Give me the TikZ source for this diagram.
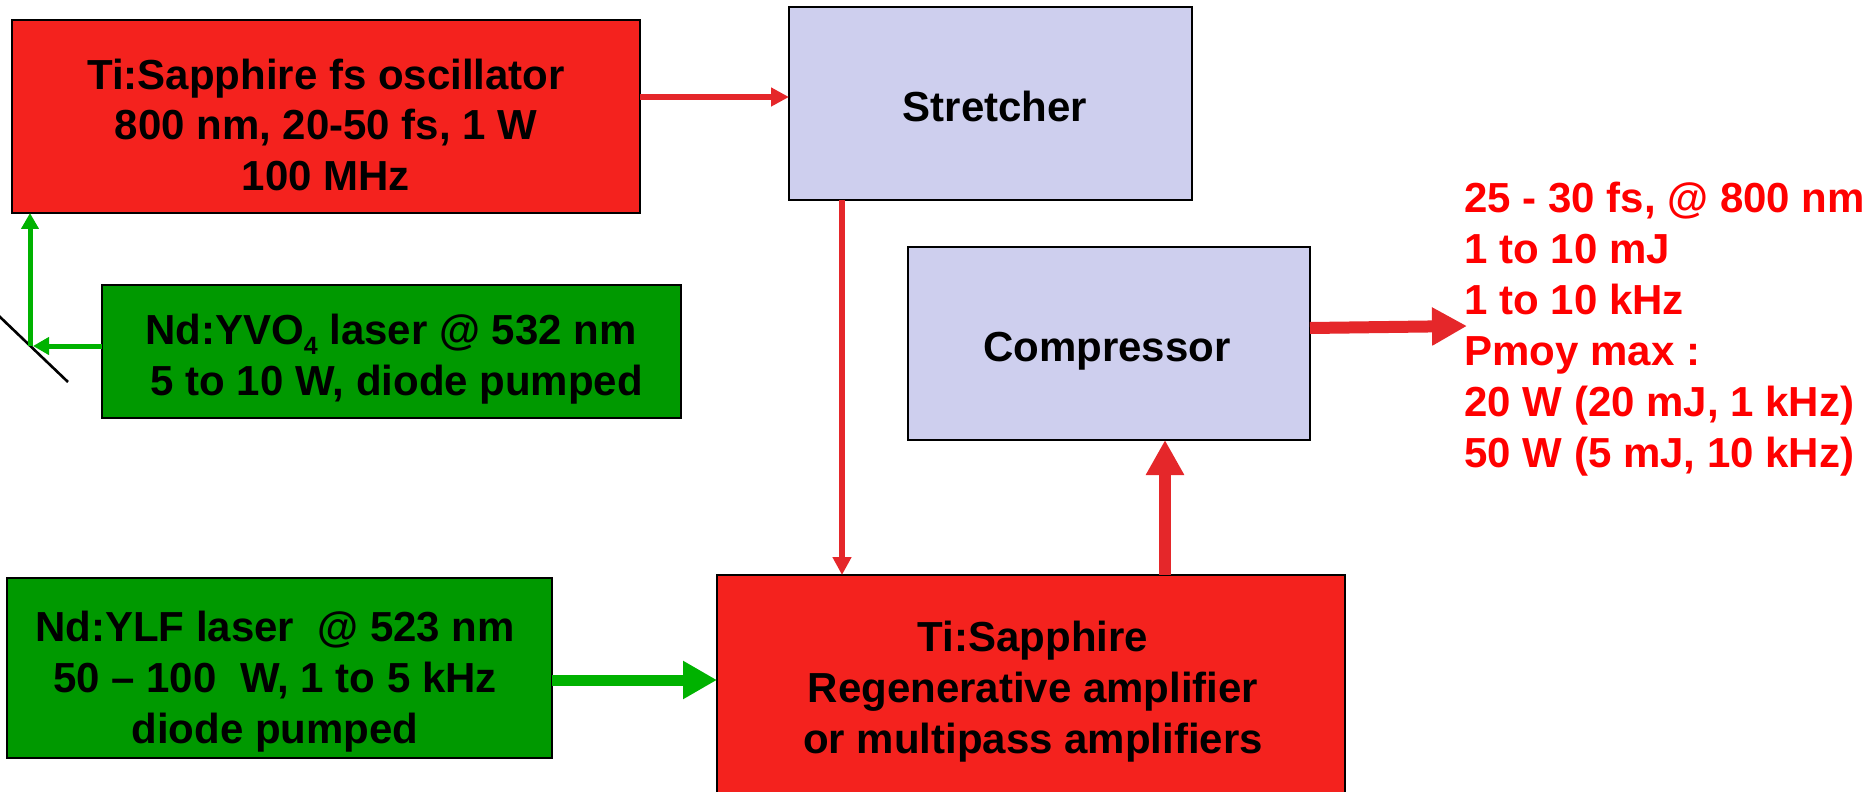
\documentclass[tikz,border=0pt]{standalone}
\usepackage{fontspec}
\setmainfont{Liberation Sans}
\usetikzlibrary{arrows.meta}
\definecolor{boxred}{RGB}{244,34,30}
\definecolor{lavender}{RGB}{206,207,238}
\definecolor{boxgreen}{RGB}{0,153,0}
\definecolor{arrowred}{RGB}{229,39,42}
\definecolor{arrowgreen}{RGB}{0,178,0}
\definecolor{textred}{RGB}{255,0,0}
\begin{document}
\begin{tikzpicture}[x=0.5pt,y=-0.5pt,
  box/.style={draw=black, line width=1.2pt, inner sep=0pt, outer sep=0pt},
  lbl/.style={font=\fontsize{21}{25.5}\selectfont\bfseries, align=center, inner sep=0pt},
  redthin/.style={draw=arrowred, line width=3pt, -{Triangle[length=9pt,width=9pt]}},
  redthick/.style={draw=arrowred, line width=6pt, -{Triangle[length=17.5pt,width=18pt]}},
  greenthin/.style={draw=arrowgreen, line width=2.5pt, -{Triangle[length=8pt,width=8.5pt]}},
  greenthick/.style={draw=arrowgreen, line width=5.5pt, -{Triangle[length=17pt,width=18pt]}},
]
\useasboundingbox (0,0) rectangle (1876,792);
\clip (0,0) rectangle (1876,792);

% boxes
\node[box, fill=boxred, minimum width=314pt, minimum height=96.5pt] (osc) at (326,116.5) {};
\node[box, fill=lavender, minimum width=201.5pt, minimum height=96.5pt] (str) at (990.5,103.5) {};
\node[box, fill=lavender, minimum width=201pt, minimum height=96.5pt] (comp) at (1109,343.5) {};
\node[box, fill=boxgreen, minimum width=289.5pt, minimum height=66.5pt] (yvo) at (391.5,351.5) {};
\node[box, fill=boxgreen, minimum width=272.5pt, minimum height=90pt] (ylf) at (279.5,668) {};
\node[box, fill=boxred, minimum width=314pt, minimum height=112.5pt] (amp) at (1031,687.5) {};

% texts
\node[lbl] (osct) at (326,129.8) {\strut Ti:Sapphire fs oscillator\\800 nm, 20-50 fs, 1 W\\100 MHz\strut};
\node[lbl] (strt) at (995,111.8) {\strut Stretcher\strut};
\node[lbl] (compt) at (1107,350.8) {\strut Compressor\strut};
\node[lbl] (yvot) at (391,359.8) {\strut Nd:YVO\raisebox{-5pt}{\fontsize{12.5}{12.5}\selectfont 4} laser @ 532 nm\\\mbox{}\ 5 to 10 W, diode pumped\strut};
\node[lbl] (ylft) at (275,682.3) {\strut Nd:YLF laser\ \ @ 523 nm\\50 – 100\ \ W, 1 to 5 kHz\\diode pumped\strut};
\node[lbl] (ampt) at (1033,691.8) {\strut Ti:Sapphire\\Regenerative amplifier\\or multipass amplifiers\strut};
\node[lbl, align=left, anchor=west, text=textred] (spec) at (1464,329.3) {\strut 25 - 30 fs, @ 800 nm\\1 to 10 mJ\\1 to 10 kHz\\Pmoy max :\\20 W (20 mJ, 1 kHz)\\50 W (5 mJ, 10 kHz)\strut};

% coordinates
\coordinate (mir) at (30,346);
\coordinate (ma) at (-5,312.2);
\coordinate (mb) at (68,382);
\coordinate (outtip) at (1467,326);

% mirror
\draw[black, line width=1.3pt] (ma) -- (mb);

% connectors
\draw[redthin] ([yshift=9.75pt]osc.east) -- ([yshift=3.25pt]str.west);
\draw[redthin] ([xshift=-74.25pt]str.south) coordinate (s1) -- (s1 |- amp.north);
\draw[redthick] ([xshift=67pt]amp.north) coordinate (a1) -- (a1 |- comp.south);
\draw[redthick] ([yshift=7.75pt]comp.east) -- (outtip);
\draw[greenthick] ([yshift=-6pt]ylf.east) coordinate (g1) -- (g1 -| amp.west);
\draw[greenthin] ([yshift=2.75pt]yvo.west) -- ([xshift=1.5pt]mir);
\draw[greenthin] (mir) -- (mir |- osc.south);
\end{tikzpicture}
\end{document}
